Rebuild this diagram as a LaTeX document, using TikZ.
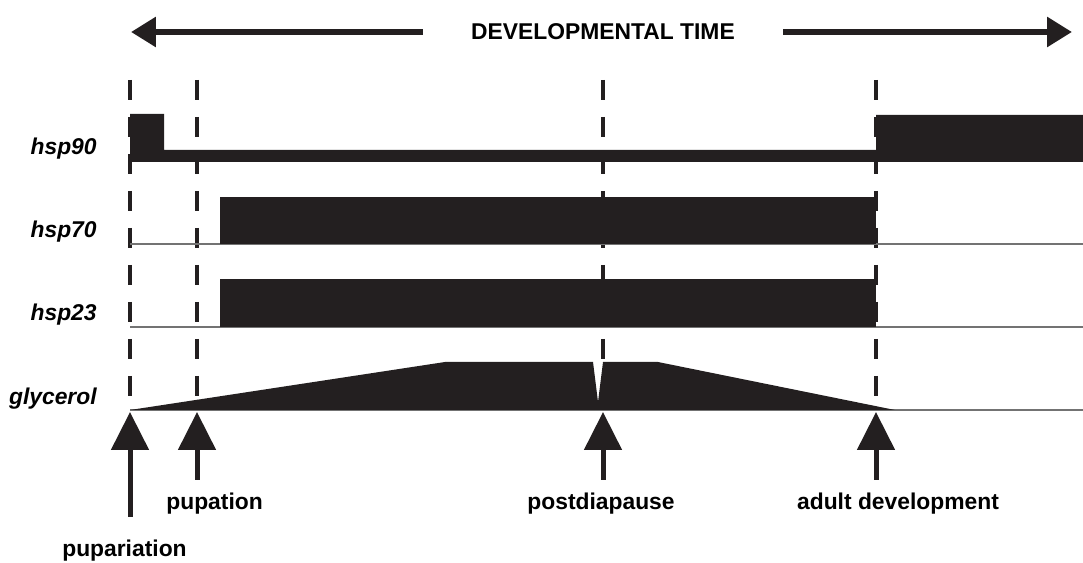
\documentclass[tikz,border=0pt]{standalone}
\usepackage{fontspec}
\setmainfont{Liberation Sans}
\usetikzlibrary{arrows.meta}
\definecolor{barfill}{HTML}{231F20}

\begin{document}
\begin{tikzpicture}[x=0.02cm,y=-0.02cm,
  lbl/.style={font=\fontsize{13}{15}\selectfont\bfseries, inner sep=0pt},
  gene/.style={inner sep=0pt, anchor=base east, font=\fontsize{13}{15}\selectfont\bfseries\itshape},
  stage/.style={dash pattern=on 0.4cm off 0.34cm, line width=0.08cm, barfill},
  base/.style={draw=black!55, line width=0.9pt},
  level/.style={fill=barfill},
  timearrow/.style={line width=0.12cm, barfill, -{Triangle[length=0.5cm,width=0.58cm]}},
  uparrow/.style={line width=0.1cm, barfill, -{Triangle[length=0.76cm,width=0.74cm]}}]
\useasboundingbox (0,0) rectangle (1083,563);
% developmental time axis
\node[lbl, inner xsep=0.96cm] (title) at (603,32) {DEVELOPMENTAL TIME};
\coordinate (tleft) at (131,32);
\coordinate (tright) at (1072,32);
\draw[timearrow] (title.west) -- (tleft);
\draw[timearrow] (title.east) -- (tright);
% stage lines
\foreach \sx/\sn in {130/pupar, 197/pupa, 603/post, 876/adult} {
  \coordinate (\sn top) at (\sx,80);
  \coordinate (\sn tip) at (\sx,412);
  \draw[stage] (\sn top) -- (\sx,410);
}
% hsp90
\fill[level] (130,114) -- (164,114) -- (164,150) -- (876,150) -- (876,115)
  -- (1083,115) -- (1083,162) -- (130,162) -- cycle;
% hsp70
\draw[base] (130,244) -- (1083,244);
\fill[level] (220,197) rectangle (876,244);
% hsp23
\draw[base] (130,327) -- (1083,327);
\fill[level] (220,279) rectangle (876,327);
% glycerol
\draw[base] (130,410) -- (1083,410);
\fill[level] (130,410) -- (445,362) -- (593,362) -- (598,402) -- (603,362)
  -- (658,362) -- (895,410) -- cycle;
\node[gene] (h90) at (97,155) {hsp90};
\node[gene] (h70) at (97,238) {hsp70};
\node[gene] (h23) at (97,321) {hsp23};
\node[gene] (gly) at (97,405) {glycerol};
% stages
\coordinate (puparfoot) at (130,517);
\coordinate (pupafoot) at (197,480);
\coordinate (postfoot) at (603,480);
\coordinate (adultfoot) at (876,480);
\draw[uparrow] (puparfoot) -- (pupartip);
\draw[uparrow] (pupafoot) -- (pupatip);
\draw[uparrow] (postfoot) -- (posttip);
\draw[uparrow] (adultfoot) -- (adulttip);
\node[lbl, anchor=base east] (puparlbl) at (187,557) {pupariation};
\node[lbl, anchor=base west] (pupalbl) at (166,510) {pupation};
\node[lbl, anchor=base] (postlbl) at (601,510) {postdiapause};
\node[lbl, anchor=base] (adultlbl) at (898,510) {adult development};
\end{tikzpicture}
\end{document}
